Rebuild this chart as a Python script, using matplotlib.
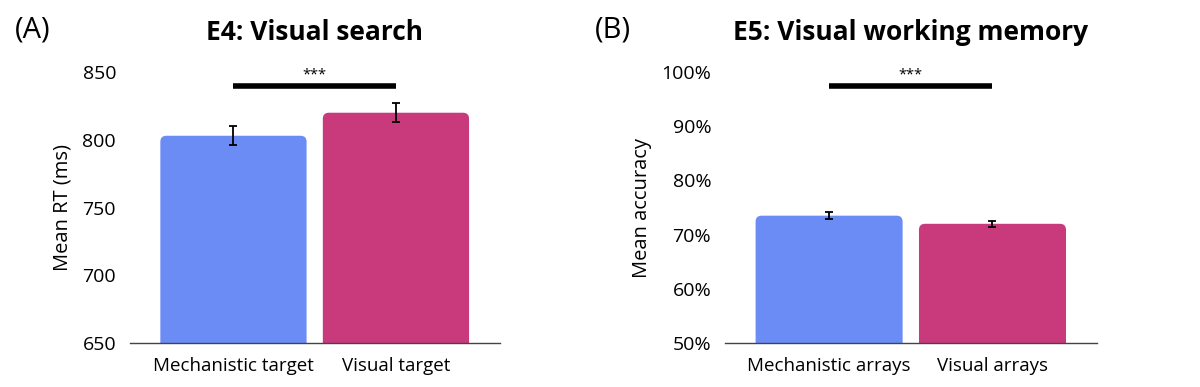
import matplotlib
matplotlib.use('Agg')
import matplotlib.pyplot as plt
from matplotlib.patches import FancyBboxPatch
from matplotlib.ticker import FuncFormatter

plt.rcParams['font.family'] = ['Open Sans', 'DejaVu Sans']

# E4: visual search
rt_labels = ['Mechanistic target', 'Visual target']
rt_means = [803, 820]
rt_err = [7, 7]
rt_sig_y = 840

# E5: visual working memory
acc_labels = ['Mechanistic arrays', 'Visual arrays']
acc_means = [73.5, 72.0]
acc_err = [0.6, 0.6]
acc_sig_y = 97.4

colors = ['#6B8BF5', '#C93A7D']


def rounded_bars(ax, bars, radius_px=6):
    # swap plain rectangles for ones with rounded top corners
    fig = ax.figure
    fig.canvas.draw()
    bb = ax.get_window_extent()
    x0, x1 = ax.get_xlim()
    y0, y1 = ax.get_ylim()
    rx = radius_px * (x1 - x0) / bb.width
    ry = radius_px * (y1 - y0) / bb.height
    for r in bars:
        x, w, h = r.get_x(), r.get_width(), r.get_height()
        bottom = y0 - 3 * ry
        p = FancyBboxPatch((x, bottom), w, h + r.get_y() - bottom,
                           boxstyle='round,pad=0,rounding_size=%f' % rx,
                           mutation_aspect=ry / rx,
                           facecolor=r.get_facecolor(), edgecolor='none',
                           clip_on=True, zorder=1)
        ax.add_patch(p)
        r.set_visible(False)


def panel(ax, labels, means, errs, sig_y, ylim, yticks, ylabel, title, fmt=None):
    x = [0, 1]
    bars = ax.bar(x, means, width=0.9, color=colors)
    ax.errorbar(x, means, yerr=errs, fmt='none', ecolor='black',
                elinewidth=1.3, capsize=2.8, capthick=1.3, zorder=3)
    ax.set_xlim(-0.637, 1.64)
    ax.set_ylim(*ylim)
    ax.set_yticks(yticks)
    if fmt:
        ax.yaxis.set_major_formatter(FuncFormatter(fmt))
    ax.set_xticks(x)
    ax.set_xticklabels(labels, fontsize=13.5)
    ax.tick_params(axis='y', length=0, labelsize=14, pad=10)
    ax.tick_params(axis='x', length=0, pad=10)
    for s in ['top', 'right', 'left']:
        ax.spines[s].set_visible(False)
    ax.spines['bottom'].set_color('#444444')
    ax.spines['bottom'].set_linewidth(1.0)
    ax.set_ylabel(ylabel, fontsize=14.5, labelpad=7)
    ax.plot(x, [sig_y, sig_y], color='black', lw=4, solid_capstyle='butt',
            clip_on=False, zorder=3)
    span = ylim[1] - ylim[0]
    ax.text(0.5, sig_y + span * 0.012, '***', ha='center', va='bottom',
            fontsize=10.5, clip_on=False)
    bb = ax.get_position()
    fig.text((bb.x0 + bb.x1) / 2, 0.917, title, ha='center', va='center',
             fontsize=19, fontweight='bold')
    rounded_bars(ax, bars)


fig = plt.figure(figsize=(12, 3.87), dpi=100)
ax1 = fig.add_axes([0.1083, 0.1137, 0.3083, 0.700])
ax2 = fig.add_axes([0.6042, 0.1137, 0.31, 0.700])

panel(ax1, rt_labels, rt_means, rt_err, rt_sig_y, (650, 850),
      [650, 700, 750, 800, 850], 'Mean RT (ms)', 'E4: Visual search')
panel(ax2, acc_labels, acc_means, acc_err, acc_sig_y, (50, 100),
      [50, 60, 70, 80, 90, 100], 'Mean accuracy', 'E5: Visual working memory',
      fmt=lambda v, p: '%d%%' % v)

fig.text(0.012, 0.922, '(A)', fontsize=21, va='center', ha='left')
fig.text(0.496, 0.922, '(B)', fontsize=21, va='center', ha='left')

fig.savefig('out.png', dpi=100)
